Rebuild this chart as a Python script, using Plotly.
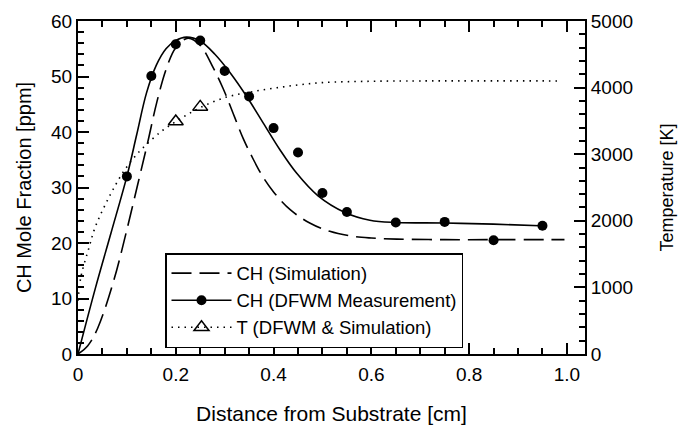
import plotly.graph_objects as go

# Distance from substrate [cm] and CH mole fraction [ppm] for the simulated profile
sim_x = [0.0, 0.02, 0.04, 0.074, 0.098, 0.122, 0.143, 0.161, 0.181, 0.2, 0.225,
         0.25, 0.277, 0.297, 0.318, 0.338, 0.359, 0.379, 0.4, 0.434, 0.474, 0.515,
         0.563, 0.6, 0.652, 0.75, 0.85, 0.995]
sim_ch = [0.0, 1.5, 4.6, 13.5, 21.7, 30.5, 38.3, 45.3, 51.5, 55.2, 56.9,
          55.6, 51.5, 47.8, 43.2, 38.8, 35.0, 31.8, 29.2, 26.0, 23.6, 22.1,
          21.2, 20.9, 20.7, 20.6, 20.6, 20.6]

# Smooth curve through the DFWM measurements
fit_x = [0.0, 0.036, 0.0675, 0.1, 0.12, 0.14, 0.16, 0.18, 0.2, 0.222, 0.25, 0.28,
         0.31, 0.348, 0.379, 0.413, 0.447, 0.491, 0.546, 0.597, 0.65, 0.75, 0.85, 0.945]
fit_ch = [0.0, 12.0, 21.8, 32.0, 39.5, 47.0, 52.0, 55.0, 56.5, 57.1, 56.4, 54.0,
          50.8, 46.0, 41.6, 36.8, 32.6, 28.5, 25.5, 24.1, 23.7, 23.6, 23.4, 23.1]

# DFWM measured CH mole fraction [ppm]
meas_x = [0.1, 0.15, 0.2, 0.25, 0.3, 0.35, 0.4, 0.45, 0.5, 0.55, 0.65, 0.75, 0.85, 0.95]
meas_ch = [32.0, 50.1, 55.8, 56.5, 51.0, 46.4, 40.7, 36.3, 29.0, 25.6, 23.7, 23.8, 20.5, 23.1]

# Temperature profile [K] (simulation) and DFWM temperature points
temp_x = [0.0, 0.006, 0.023, 0.033, 0.044, 0.057, 0.071, 0.088, 0.108, 0.132, 0.17,
          0.2, 0.225, 0.25, 0.3, 0.35, 0.4, 0.45, 0.5, 0.6, 0.7, 0.99]
temp_k = [800, 1160, 1610, 1860, 2060, 2260, 2460, 2680, 2890, 3090, 3340,
          3490, 3600, 3700, 3850, 3930, 3990, 4040, 4075, 4095, 4100, 4100]
tmeas_x = [0.2, 0.25]
tmeas_k = [3490, 3710]

x_ticks = [0, 0.2, 0.4, 0.6, 0.8, 1.0]
x_ticktext = ["0", "0.2", "0.4", "0.6", "0.8", "1.0"]

FONT = "Liberation Sans, Arial, Helvetica, sans-serif"
INK = "black"

fig = go.Figure()

fig.add_trace(go.Scatter(
    x=sim_x, y=sim_ch, mode="lines", name="CH (Simulation)",
    line=dict(color=INK, width=1.6, dash="20px,8px", shape="spline", smoothing=1.0),
))
fig.add_trace(go.Scatter(
    x=fit_x, y=fit_ch, mode="lines", showlegend=False,
    line=dict(color=INK, width=1.6, shape="spline", smoothing=1.0),
))
fig.add_trace(go.Scatter(
    x=meas_x, y=meas_ch, mode="markers", showlegend=False,
    marker=dict(symbol="circle", size=10, color=INK),
))
fig.add_trace(go.Scatter(
    x=[None], y=[None], mode="lines+markers", name="CH (DFWM Measurement)",
    line=dict(color=INK, width=1.6), marker=dict(symbol="circle", size=10, color=INK),
))
fig.add_trace(go.Scatter(
    x=temp_x, y=temp_k, mode="lines", showlegend=False, yaxis="y2",
    line=dict(color=INK, width=1.6, dash="1.5px,5px", shape="spline", smoothing=1.0),
))
fig.add_trace(go.Scatter(
    x=tmeas_x, y=tmeas_k, mode="markers", showlegend=False, yaxis="y2",
    marker=dict(symbol="triangle-up-open", size=13, color=INK, line=dict(width=1.5, color=INK)),
))
fig.add_trace(go.Scatter(
    x=[None], y=[None], mode="lines+markers", name="T (DFWM & Simulation)",
    line=dict(color=INK, width=1.6, dash="1.5px,5px"),
    marker=dict(symbol="triangle-up-open", size=13, color=INK, line=dict(width=1.5, color=INK)),
))

axis_common = dict(
    showgrid=False, zeroline=False, showline=True, linecolor=INK, linewidth=2,
    ticks="inside", tickcolor=INK, tickwidth=1.5, ticklen=11, automargin=False,
    tickfont=dict(family=FONT, size=19, color=INK),
)

fig.update_layout(
    width=678, height=425,
    margin=dict(l=78, r=93, t=21, b=71),
    paper_bgcolor="white", plot_bgcolor="white",
    font=dict(family=FONT, color=INK),
    xaxis=dict(
        **axis_common, range=[0, 1.037], tickmode="array",
        tickvals=x_ticks, ticktext=x_ticktext, mirror="ticks",
        ticklabelstandoff=2,
        minor=dict(tickmode="linear", tick0=0, dtick=0.05, ticks="inside",
                   ticklen=6, tickwidth=1.5, tickcolor=INK),
        title=dict(text="Distance from Substrate [cm]",
                   font=dict(family=FONT, size=21, color=INK), standoff=24),
    ),
    yaxis=dict(
        **axis_common, range=[0, 60], tickmode="linear", tick0=0, dtick=10,
        minor=dict(tickmode="linear", tick0=0, dtick=2, ticks="inside",
                   ticklen=6, tickwidth=1.5, tickcolor=INK),
        title=dict(text="CH Mole Fraction [ppm]",
                   font=dict(family=FONT, size=20, color=INK), standoff=14),
    ),
    yaxis2=dict(
        **axis_common, range=[0, 5000], tickmode="linear", tick0=0, dtick=1000,
        overlaying="y", side="right",
        minor=dict(tickmode="linear", tick0=0, dtick=200, ticks="inside",
                   ticklen=6, tickwidth=1.5, tickcolor=INK),
        title=dict(text="Temperature [K]",
                   font=dict(family=FONT, size=18, color=INK), standoff=28),
    ),
    legend=dict(
        x=0.1716, y=0.303, xanchor="left", yanchor="top",
        bgcolor="white", bordercolor=INK, borderwidth=1.5,
        font=dict(family=FONT, size=18.5, color=INK),
        itemwidth=60, tracegroupgap=0,
    ),
)

fig.write_html("out.html")
